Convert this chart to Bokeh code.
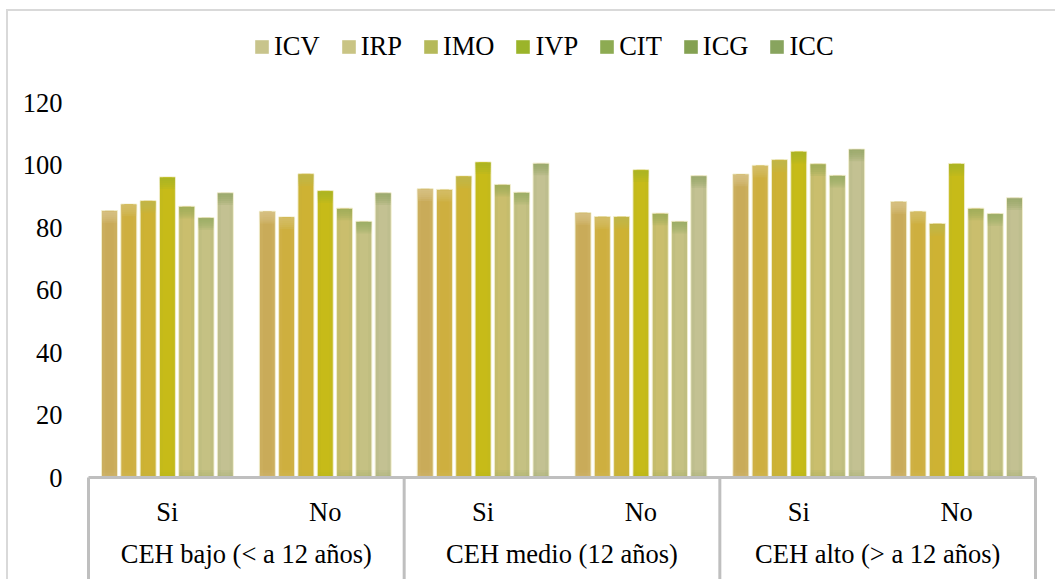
import numpy as np
from bokeh.plotting import figure
from bokeh.models import Range1d, FixedTicker, ColumnDataSource, Legend, LegendItem
from bokeh.core.properties import value
from bokeh.embed import file_html
from bokeh.resources import INLINE

# ---------------- data ----------------
groups = ["CEH bajo (< a 12 años)", "CEH medio (12 años)", "CEH alto (> a 12 años)"]
subs = ["Si", "No"]
series = ["ICV", "IRP", "IMO", "IVP", "CIT", "ICG", "ICC"]
# order: bajo-Si, bajo-No, medio-Si, medio-No, alto-Si, alto-No
ICV = [85.4, 85.2, 92.4, 84.8, 97.1, 88.3]
IRP = [87.5, 83.4, 92.2, 83.5, 99.9, 85.2]
IMO = [88.6, 97.2, 96.5, 83.5, 101.7, 81.3]
IVP = [96.2, 91.8, 101.0, 98.5, 104.4, 100.5]
CIT = [86.8, 86.2, 93.8, 84.6, 100.4, 86.2]
ICG = [83.2, 82.0, 91.3, 82.0, 96.7, 84.5]
ICC = [91.1, 91.1, 100.6, 96.6, 105.1, 89.5]
y_ticks = [0, 20, 40, 60, 80, 100, 120]

# ---------------- styles ----------------
values = [ICV, IRP, IMO, IVP, CIT, ICG, ICC]
bar_colors = ["#C9AA55", "#CEAE3C", "#CFB232", "#CABC18", "#CDBF70", "#C8C285", "#C6C395"]
top_colors = ["#DCC790", "#D8C275", "#BDB850", "#A6B428", "#98AB55", "#93A860", "#8FA363"]
legend_colors = ["#C8C48C", "#C9C484", "#B5B95A", "#9BB42A", "#8DAB52", "#84A152", "#88A45E"]
FONT = "Liberation Serif"
FSIZE = "26.5px"
AXIS_GREY = "#BFBFBF"

Y0, Y1 = -33.28, 149.12
X0, X1 = -0.0253, 6.0253
step = 0.1223
bw = 0.101

p = figure(width=1049, height=570, output_backend="svg", toolbar_location=None,
           x_range=Range1d(X0, X1), y_range=Range1d(Y0, Y1),
           x_axis_location=None, min_border_left=76, min_border_right=18,
           min_border_top=0, min_border_bottom=0)
p.styles = {"margin-left": "6px", "margin-top": "9px",
            "border-top": "2px solid #D9D9D9", "border-left": "2px solid #D9D9D9"}
p.outline_line_color = None
p.xgrid.visible = False
p.ygrid.visible = False
p.background_fill_color = "white"
p.border_fill_color = "white"

ax = p.yaxis[0]
ax.ticker = FixedTicker(ticks=y_ticks)
ax.axis_line_color = None
ax.major_tick_line_color = None
ax.minor_tick_line_color = None
ax.major_label_standoff = 16
ax.major_label_text_font = FONT
ax.major_label_text_font_size = FSIZE
ax.major_label_text_color = "#000000"

ncat = len(groups) * len(subs)
centers = np.arange(ncat) + 0.5
nser = len(series)

legend_items = []
for i, (name, vals) in enumerate(zip(series, values)):
    xs = centers + (i - (nser - 1) / 2) * step
    tops = np.array(vals, dtype=float)
    src = ColumnDataSource(dict(x=xs, top=tops))
    p.vbar(x="x", top="top", bottom=0, width=bw, source=src,
           fill_color=bar_colors[i], line_color="#F2EFCF", line_width=1)
    # edge tint
    p.vbar(x="x", top="top", bottom=0, width=bw * 0.96, source=src,
           fill_color=top_colors[i], fill_alpha=0.14, line_color=None)
    p.vbar(x="x", top="top", bottom=0, width=bw * 0.55, source=src,
           fill_color=bar_colors[i], fill_alpha=0.55, line_color=None)
    # top gradient
    for k in range(1, 7):
        s2 = ColumnDataSource(dict(x=xs, top=tops - 0.25, bottom=tops - k * 0.65))
        p.vbar(x="x", top="top", bottom="bottom", width=bw * 0.94, source=s2,
               fill_color=top_colors[i], fill_alpha=0.2, line_color=None)
    # bottom tint
    for k in range(1, 4):
        s3 = ColumnDataSource(dict(x=xs, top=np.full(len(xs), k * 0.8)))
        p.vbar(x="x", top="top", bottom=0, width=bw * 0.94, source=s3,
               fill_color=top_colors[i], fill_alpha=0.1, line_color=None)
    # legend swatch renderer (its single bar lies outside the visible range)
    dummy = p.quad(left="l", right="r", bottom=0, top=1,
                   source=ColumnDataSource(dict(l=[X0 - 6], r=[X0 - 5])),
                   fill_color=legend_colors[i], line_color=None)
    legend_items.append(LegendItem(label=name, renderers=[dummy]))

# category axis (drawn inside the frame below zero)
bounds = np.arange(len(groups) + 1) * len(subs)
p.segment(x0=bounds, y0=np.zeros(len(bounds)), x1=bounds, y1=np.full(len(bounds), Y0),
          line_color=AXIS_GREY, line_width=3)
p.segment(x0=[bounds[0]], y0=[0], x1=[bounds[-1]], y1=[0], line_color=AXIS_GREY, line_width=3)

sub_labels = [s for g in groups for s in subs]
p.text(x=centers, y=np.full(ncat, -10.9), text=sub_labels, text_font=value(FONT),
       text_font_size=FSIZE, text_align="center", text_baseline="middle", text_color="#000000")
gcenters = (bounds[:-1] + bounds[1:]) / 2
p.text(x=gcenters, y=np.full(len(groups), -24.5), text=groups, text_font=value(FONT),
       text_font_size=FSIZE, text_align="center", text_baseline="middle", text_color="#000000")

legend = Legend(items=legend_items, orientation="horizontal", location=(169, 519),
                glyph_width=17, glyph_height=17, label_standoff=4, spacing=20,
                padding=0, margin=0, border_line_color=None, background_fill_alpha=0,
                label_text_font=FONT, label_text_font_size=FSIZE, label_text_color="#000000")
p.add_layout(legend)

open("out.html", "w").write(file_html(p, INLINE))
